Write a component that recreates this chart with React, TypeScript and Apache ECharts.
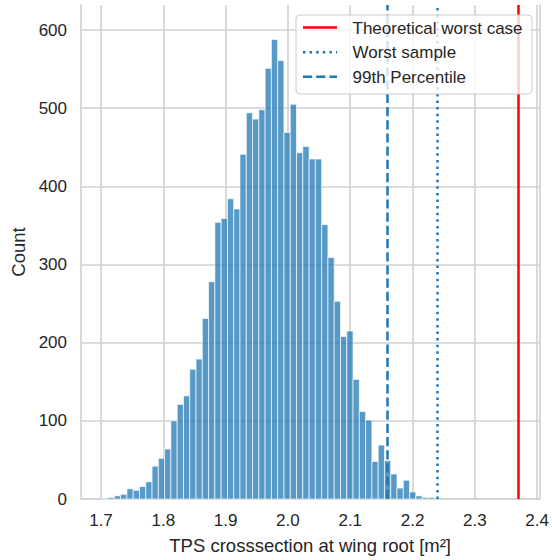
import React, { useEffect, useRef } from "react";
import * as echarts from "echarts";

// Histogram bins (seaborn auto bins): first bin left edge and bin width
const binStart = 1.7013;
const binWidth = 0.01008;
// Counts per bin, left to right
const counts = [
  1, 2, 4, 6, 13, 11, 16, 22, 42, 52, 64, 100, 121, 132, 166, 179, 231, 278,
  354, 359, 384, 371, 441, 494, 486, 498, 551, 588, 561, 469, 505, 443, 451,
  435, 435, 351, 309, 253, 208, 215, 153, 112, 101, 48, 69, 49, 32, 14, 24, 9,
  4, 2, 2,
];
// Reference lines
const theoreticalWorst = 2.37;
const worstSample = 2.2355;
const percentile99 = 2.1616;
const legendLabels = ["Theoretical worst case", "Worst sample", "99th Percentile"];
// Axis extents
const xMin = 1.6679;
const xMax = 2.4034;
const yMax = 632;
const xTitle = "TPS crosssection at wing root [m²]";
const yTitle = "Count";

const FONT = "'Liberation Sans', Arial, sans-serif";
const TEXT = "#262626";
const GRID = "#d0d0d0";
const BLUE = "#1f77b4";

export default function App() {
  const ref = useRef<HTMLDivElement>(null);
  useEffect(() => {
    document.body.style.margin = "0";
    if (!ref.current) return;
    const chart = echarts.init(ref.current, undefined, { renderer: "svg" });
    const data = counts.map((c, i) => [
      binStart + i * binWidth,
      binStart + (i + 1) * binWidth,
      c,
    ]);
    const legendStyles = [
      { color: "#ff0000", dash: undefined as any },
      { color: BLUE, dash: [2.5, 4.1] },
      { color: BLUE, dash: [9.2, 4] },
    ];
    const legendX = 296;
    const legendY = 15;
    const rowY = [27.5, 52.3, 76.8];
    const option: any = {
      animation: false,
      grid: { left: 81, right: 12, top: 5, bottom: 59 },
      xAxis: {
        type: "value",
        min: xMin,
        max: xMax,
        minInterval: 0.1,
        maxInterval: 0.1,
        name: xTitle,
        nameLocation: "middle",
        nameGap: 37,
        nameTextStyle: { fontSize: 18.5, color: TEXT, fontFamily: FONT },
        axisLine: { show: true, lineStyle: { color: GRID, width: 1.6 } },
        axisTick: { show: false },
        axisLabel: {
          showMinLabel: false,
          showMaxLabel: false,
          fontSize: 17,
          color: TEXT,
          fontFamily: FONT,
          margin: 13,
          formatter: (v: number) => v.toFixed(1),
        },
        splitLine: {
          show: true,
          showMinLine: false,
          showMaxLine: false,
          lineStyle: { color: GRID, width: 1.6 },
        },
      },
      yAxis: [
        {
          type: "value",
          min: 0,
          max: yMax,
          minInterval: 100,
          maxInterval: 100,
          name: yTitle,
          nameLocation: "middle",
          nameGap: 47,
          nameTextStyle: { fontSize: 18.5, color: TEXT, fontFamily: FONT },
          axisLine: { show: true, lineStyle: { color: GRID, width: 1.6 } },
          axisTick: { show: false },
          axisLabel: {
            showMaxLabel: false,
            fontSize: 17,
            color: TEXT,
            fontFamily: FONT,
            margin: 14,
            formatter: (v: number) => String(Math.round(v)),
          },
          splitLine: {
            show: true,
            showMaxLine: false,
            lineStyle: { color: GRID, width: 1.6 },
          },
        },
        {
          type: "value",
          position: "right",
          min: 0,
          max: yMax,
          axisLine: { show: true, lineStyle: { color: GRID, width: 1.6 } },
          axisTick: { show: false },
          axisLabel: { show: false },
          splitLine: { show: false },
        },
      ],
      series: [
        {
          type: "custom",
          xAxisIndex: 0,
          yAxisIndex: 0,
          z: 2,
          encode: { x: [0, 1], y: 2 },
          data,
          renderItem: (params: any, api: any) => {
            const p0 = api.coord([api.value(0), api.value(2)]);
            const p1 = api.coord([api.value(1), 0]);
            return {
              type: "rect",
              shape: {
                x: p0[0],
                y: p0[1],
                width: p1[0] - p0[0],
                height: p1[1] - p0[1],
              },
              style: {
                fill: "rgba(31,119,180,0.75)",
                stroke: "rgba(255,255,255,0.85)",
                lineWidth: 0.8,
              },
            };
          },
          markLine: {
            silent: true,
            symbol: ["none", "none"],
            label: { show: false },
            animation: false,
            z: 3,
            data: [
              {
                xAxis: theoreticalWorst,
                lineStyle: { color: "#ff0000", width: 2.5, type: "solid" },
              },
              {
                xAxis: worstSample,
                lineStyle: { color: BLUE, width: 2.5, type: [2.5, 4.1] },
              },
              {
                xAxis: percentile99,
                lineStyle: { color: BLUE, width: 2.5, type: [9.2, 4] },
              },
            ],
          },
        },
      ],
      graphic: {
        elements: [
          {
            type: "rect",
            z: 100,
            zlevel: 0,
            shape: { x: legendX, y: legendY, width: 236, height: 79, r: 4 },
            style: {
              fill: "rgba(255,255,255,0.8)",
              stroke: "#cccccc",
              lineWidth: 1,
            },
          },
          ...legendLabels.flatMap((label, i) => [
            {
              type: "line",
              z: 101,
              shape: { x1: 303, y1: rowY[i], x2: 337, y2: rowY[i] },
              style: {
                stroke: legendStyles[i].color,
                lineWidth: 2.5,
                lineDash: legendStyles[i].dash,
              },
            },
            {
              type: "text",
              z: 101,
              x: 352.5,
              y: rowY[i] + 0.5,
              style: {
                text: label,
                fontSize: 17,
                fontFamily: FONT,
                fill: TEXT,
                verticalAlign: "middle",
                align: "left",
              },
            },
          ]),
        ],
      },
    };
    chart.setOption(option);
    return () => chart.dispose();
  }, []);
  return <div ref={ref} style={{ width: 552, height: 560 }} />;
}
